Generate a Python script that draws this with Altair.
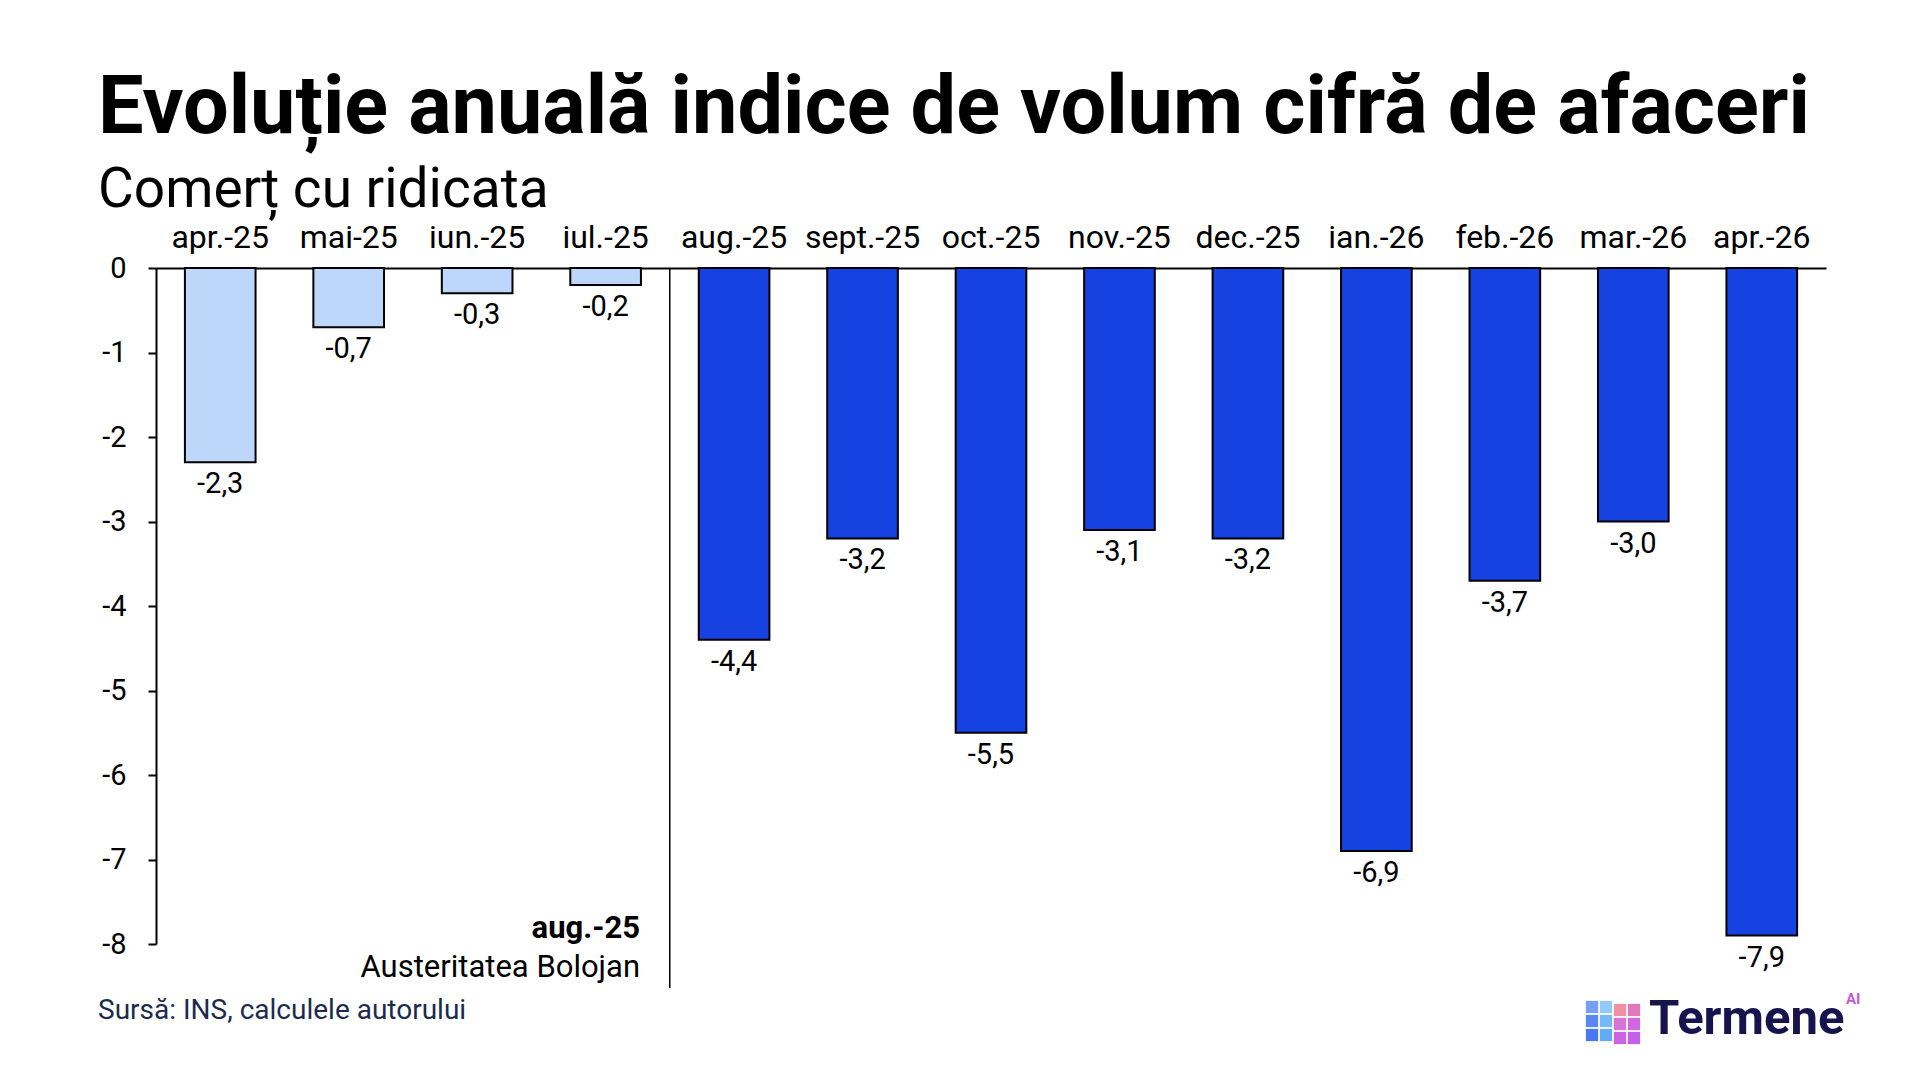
import altair as alt
import pandas as pd

# ---- data ----
months = ["apr.-25", "mai-25", "iun.-25", "iul.-25", "aug.-25", "sept.-25", "oct.-25",
          "nov.-25", "dec.-25", "ian.-26", "feb.-26", "mar.-26", "apr.-26"]
values = [-2.3, -0.7, -0.3, -0.2, -4.4, -3.2, -5.5, -3.1, -3.2, -6.9, -3.7, -3.0, -7.9]
period = ["inainte", "inainte", "inainte", "inainte", "dupa", "dupa", "dupa",
          "dupa", "dupa", "dupa", "dupa", "dupa", "dupa"]
y_ticks = [0, -1, -2, -3, -4, -5, -6, -7, -8]

title_text = "Evoluție anuală indice de volum cifră de afaceri"
subtitle_text = "Comerț cu ridicata"
note_bold = "aug.-25"
note_text = "Austeritatea Bolojan"
source_text = "Sursă: INS, calculele autorului"
brand_text = "Termene"
brand_sup = "AI"
split_month = "aug.-25"

# logo cube cells (column, row, colour)
cube_col = [0, 0, 0, 1, 1, 1, 2, 2, 2, 3, 3, 3]
cube_row = [0, 1, 2, 0, 1, 2, 0, 1, 2, 0, 1, 2]
cube_colour = ["#6E9BF5", "#4F80F2", "#3F6FF0",
               "#8CC8F8", "#6CB6F6", "#5AA6F4",
               "#F08A9C", "#D86BD6", "#C95BE6",
               "#E071B8", "#CF60E2", "#C257EA"]

FONT = "Roboto"
W, H = 1670, 676

df = pd.DataFrame({"luna": months, "valoare": values, "perioada": period})

x_enc = alt.X(
    "luna:N", sort=months,
    scale=alt.Scale(paddingInner=0.45, paddingOuter=0.225),
    axis=alt.Axis(orient="top", title=None, labelAngle=0, ticks=False, tickSize=0,
                  labelPadding=21, labelBaseline="alphabetic", labelFont=FONT,
                  labelFontSize=32, labelColor="black", domainColor="black",
                  domainWidth=2, grid=False),
)
y_enc = alt.Y(
    "valoare:Q",
    scale=alt.Scale(domain=[-8, 0], nice=False, zero=True),
    axis=alt.Axis(title=None, values=y_ticks, labelExpr="'' + datum.value", grid=False,
                  tickSize=8, tickWidth=2, tickColor="black", domainColor="black",
                  domainWidth=2, labelPadding=22, labelFont=FONT, labelFontSize=29,
                  labelColor="black"),
)

base = alt.Chart(df)

bars = base.mark_bar(stroke="black", strokeWidth=2).encode(
    x=x_enc,
    y=y_enc,
    color=alt.Color("perioada:N",
                    scale=alt.Scale(domain=["inainte", "dupa"],
                                    range=["#BDD7FB", "#1642E1"]),
                    legend=None),
)

labels = base.transform_calculate(
    eticheta="replace(replace(format(datum.valoare, '.1f'), '.', ','), '\u2212', '-')"
).mark_text(font=FONT, fontSize=29, color="black", baseline="alphabetic", dy=31).encode(
    x=alt.X("luna:N", sort=months),
    y="valoare:Q",
    text="eticheta:N",
)

split_df = pd.DataFrame({"luna": [split_month]})
split_rule = alt.Chart(split_df).mark_rule(color="black", strokeWidth=1.5, xOffset=-29).encode(
    x=alt.X("luna:N", sort=months, bandPosition=0),
    y=alt.value(0),
    y2=alt.value(H + 44),
)


def txt(text, x, y, size, weight="normal", align="left", color="black"):
    return alt.Chart(pd.DataFrame({"t": [text]})).mark_text(
        font=FONT, fontSize=size, fontWeight=weight, align=align,
        baseline="alphabetic", color=color,
    ).encode(text="t:N", x=alt.value(x), y=alt.value(y))


title = txt(title_text, -58, -135, 81, weight="bold")
subtitle = txt(subtitle_text, -58, -61, 55)
note1 = txt(note_bold, 484, 670, 31, weight="bold", align="right")
note2 = txt(note_text, 484, 709, 31, align="right")
source = txt(source_text, -58, 751, 28, color="#1B2B4F")
brand = txt(brand_text, 1493, 766, 49, weight="bold", color="#16134D")
brand_ai = txt(brand_sup, 1690, 736, 15, weight="bold", color="#C25AD8")

cube_df = pd.DataFrame({"c": cube_col, "r": cube_row, "col": cube_colour})
cube = alt.Chart(cube_df).transform_calculate(
    px="1436 + datum.c * 14",
    py="739 + datum.r * 14 + (datum.c >= 2 ? 3 : 0)",
).mark_square(size=150, opacity=0.95).encode(
    x=alt.X("px:Q", scale=None),
    y=alt.Y("py:Q", scale=None),
    color=alt.Color("col:N", scale=None),
)

chart = alt.layer(
    bars, labels, split_rule, title, subtitle, note1, note2, source, brand, brand_ai, cube
).resolve_scale(x="shared").properties(
    width=W, height=H,
    autosize=alt.AutoSizeParams(type="none"),
    padding={"left": 148, "top": 260, "right": 78, "bottom": 120},
    background="white",
).configure_view(stroke=None)

chart.save("out.html", embed_options={"renderer": "svg", "actions": False})
